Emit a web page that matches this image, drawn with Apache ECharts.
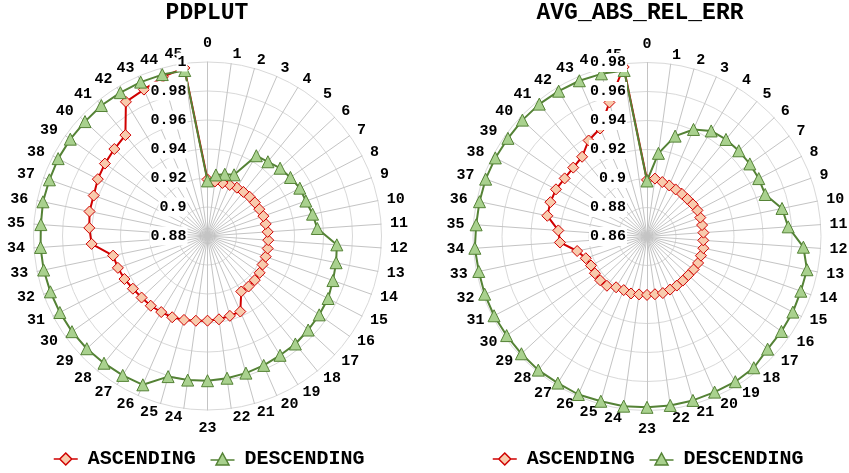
<!DOCTYPE html>
<html>
<head>
<meta charset="utf-8">
<script src="https://cdn.jsdelivr.net/npm/echarts@6/dist/echarts.min.js"></script>
<style>
  html, body { margin: 0; padding: 0; background: #ffffff; }
  #chart { width: 849px; height: 473px; }
</style>
</head>
<body>
<div id="chart"></div>
<script>
// Category spokes, clockwise from the top
const categories = ['0','1','2','3','4','5','6','7','8','9','10','11','12','13','14','15',
  '16','17','18','19','20','21','22','23','24','25','26','27','28','29','30','31',
  '32','33','34','35','36','37','38','39','40','41','42','43','44','45'];

// Radial tick labels of each panel
const pdplutTicks = [0.88, 0.90, 0.92, 0.94, 0.96, 0.98, 1.00];
const errTicks = [0.86, 0.88, 0.90, 0.92, 0.94, 0.96, 0.98];

// PDPLUT panel
const pdplutAscending = [0.919, 0.918, 0.918, 0.9184, 0.919, 0.9192, 0.9197, 0.920, 0.9202, 0.9209,
  0.921, 0.9216, 0.922, 0.9224, 0.9226, 0.9228, 0.924, 0.9246, 0.9249, 0.9248,
  0.9368, 0.9372, 0.938, 0.9384, 0.939, 0.9401, 0.9411, 0.9414, 0.942, 0.9422,
  0.943, 0.9445, 0.9456, 0.9465, 0.9601, 0.9617, 0.9631, 0.9633, 0.9652, 0.9666,
  0.9679, 0.9697, 0.9883, 0.9901, 0.994, 0.997];
const pdplutDescending = [0.918, 0.9225, 0.9242, 0.926, 0.9448, 0.946, 0.9485, 0.950, 0.9517, 0.952,
  0.954, 0.9559, 0.9694, 0.9706, 0.9718, 0.9737, 0.9743, 0.975, 0.976, 0.9763,
  0.9773, 0.9782, 0.979, 0.9798, 0.9803, 0.9807, 0.9919, 0.9925, 0.9931, 0.9939,
  0.9944, 0.9947, 0.995, 0.9954, 0.9954, 0.9952, 0.9959, 0.9957, 0.996, 0.9958,
  0.9956, 0.996, 0.9957, 0.9957, 0.9956, 0.9952];

// AVG_ABS_REL_ERR panel
const errAscending = [0.899, 0.9003, 0.899, 0.8984, 0.898, 0.898, 0.898, 0.8986, 0.8992, 0.899,
  0.8988, 0.899, 0.8989, 0.8997, 0.8995, 0.8997, 0.8994, 0.899, 0.8992, 0.8996,
  0.8999, 0.9005, 0.9002, 0.9003, 0.9003, 0.9008, 0.9003, 0.901, 0.9038, 0.9042,
  0.904, 0.9035, 0.9048, 0.9092, 0.9202, 0.9213, 0.9302, 0.9307, 0.9307, 0.9295,
  0.9296, 0.9309, 0.9375, 0.9412, 0.956, 0.978];
const errDescending = [0.8983, 0.9179, 0.9319, 0.9405, 0.9452, 0.9463, 0.9466, 0.9468, 0.9468, 0.9465,
  0.9551, 0.9576, 0.9681, 0.9727, 0.9726, 0.9733, 0.9735, 0.9738, 0.9767, 0.9772,
  0.977, 0.9774, 0.9776, 0.9778, 0.9781, 0.978, 0.9788, 0.9783, 0.9788, 0.9785,
  0.9785, 0.9788, 0.9788, 0.9785, 0.979, 0.9781, 0.978, 0.9781, 0.9778, 0.9774,
  0.9776, 0.9777, 0.9773, 0.9771, 0.9765, 0.9756];

const FONT = '"Liberation Mono", "Courier New", monospace';
const RED = '#D00000', PEACH = '#F8CBAD';
const GREEN = '#548235', LIGHTGREEN = '#A9D18E';
const RADIUS = 174;
const LEFT_CENTER = [207.5, 236];
const RIGHT_CENTER = [647, 236.5];

// ECharts lays radar indicators counter-clockwise; walk the categories backwards
// so that they read clockwise starting at the top.
const order = categories.map((c, j) => (categories.length - j) % categories.length);
const reorder = vals => order.map(i => vals[i]);

// Names sitting straight above / below the centre get a little more room
function nameGapFor(catIndex) {
  const half = categories.length / 2;
  return (catIndex === 0 || catIndex === half) ? 11 : 9;
}

function gridRadar(center, ticks) {
  const min = ticks[0], max = ticks[ticks.length - 1];
  return {
    center: center, radius: RADIUS, startAngle: 90, shape: 'circle',
    splitNumber: ticks.length - 1, z: 0,
    indicator: order.map(i => ({ name: categories[i], min: min, max: max, nameGap: nameGapFor(i) })),
    axisName: { color: '#000', fontFamily: FONT, fontWeight: 'bold', fontSize: 15 },
    axisNameGap: 9,
    axisLine: { lineStyle: { color: '#c4c4c4', width: 1 } },
    splitLine: { lineStyle: { color: '#d9d9d9', width: 1 } },
    splitArea: { show: false },
    axisTick: { show: false },
    axisLabel: { show: false }
  };
}

// Overlay carrying only the radial value labels, kept above the series
function labelRadar(center, ticks) {
  const min = ticks[0], max = ticks[ticks.length - 1];
  return {
    center: center, radius: RADIUS, startAngle: 90, shape: 'circle',
    splitNumber: ticks.length - 1, z: 5,
    indicator: order.map((i, j) => j === 0
      ? { name: '', min: min, max: max, axisLabel: { show: true } }
      : { name: '', min: min, max: max }),
    axisName: { show: false },
    axisLine: { show: false },
    splitLine: { show: false },
    splitArea: { show: false },
    axisTick: { show: false },
    axisLabel: {
      show: false, margin: 20, color: '#000', fontFamily: FONT, fontWeight: 'bold', fontSize: 15,
      backgroundColor: '#ffffff', padding: [2, 1],
      formatter: v => String(+(+v).toFixed(2))
    }
  };
}

function ascSeries(radarIndex, vals) {
  return {
    type: 'radar', radarIndex: radarIndex, z: 2,
    symbol: 'diamond', symbolSize: 11,
    itemStyle: { color: PEACH, borderColor: RED, borderWidth: 1 },
    lineStyle: { color: RED, width: 2 },
    data: [{ name: 'ASCENDING', value: reorder(vals) }]
  };
}
function descSeries(radarIndex, vals) {
  return {
    type: 'radar', radarIndex: radarIndex, z: 3,
    symbol: 'triangle', symbolSize: 12,
    itemStyle: { color: LIGHTGREEN, borderColor: GREEN, borderWidth: 1 },
    lineStyle: { color: GREEN, width: 2 },
    data: [{ name: 'DESCENDING', value: reorder(vals) }]
  };
}

const ASC_ICON = 'path://M0,6L6,6M18,6L24,6M12,0L18,6L12,12L6,6Z';
const DESC_ICON = 'path://M0,7L8.2,7M15.8,7L24,7M12,0L18.5,12L5.5,12Z';

function legendAt(left) {
  return {
    left: left, top: 449, padding: 0, itemWidth: 24, itemHeight: 12, itemGap: 14,
    selectedMode: false,
    textStyle: { color: '#000', fontFamily: FONT, fontWeight: 'bold', fontSize: 20, padding: [0, 0, 0, 5] },
    data: [
      { name: 'ASCENDING', icon: ASC_ICON, itemStyle: { color: PEACH, borderColor: RED, borderWidth: 1.5 } },
      { name: 'DESCENDING', icon: DESC_ICON, itemStyle: { color: LIGHTGREEN, borderColor: GREEN, borderWidth: 1.5 } }
    ]
  };
}

const titleStyle = { color: '#000', fontFamily: FONT, fontWeight: 'bold', fontSize: 23 };

const chart = echarts.init(document.getElementById('chart'), null, { renderer: 'canvas' });
chart.setOption({
  backgroundColor: '#ffffff',
  animation: false,
  title: [
    { text: 'PDPLUT', left: 207, top: 2, padding: 0, textAlign: 'center', textStyle: titleStyle },
    { text: 'AVG_ABS_REL_ERR', left: 640, top: 2, padding: 0, textAlign: 'center', textStyle: titleStyle }
  ],
  legend: [legendAt(53), legendAt(492)],
  radar: [
    gridRadar(LEFT_CENTER, pdplutTicks),
    gridRadar(RIGHT_CENTER, errTicks),
    labelRadar(LEFT_CENTER, pdplutTicks),
    labelRadar(RIGHT_CENTER, errTicks)
  ],
  series: [
    ascSeries(0, pdplutAscending),
    descSeries(0, pdplutDescending),
    ascSeries(1, errAscending),
    descSeries(1, errDescending)
  ]
});
</script>
</body>
</html>
